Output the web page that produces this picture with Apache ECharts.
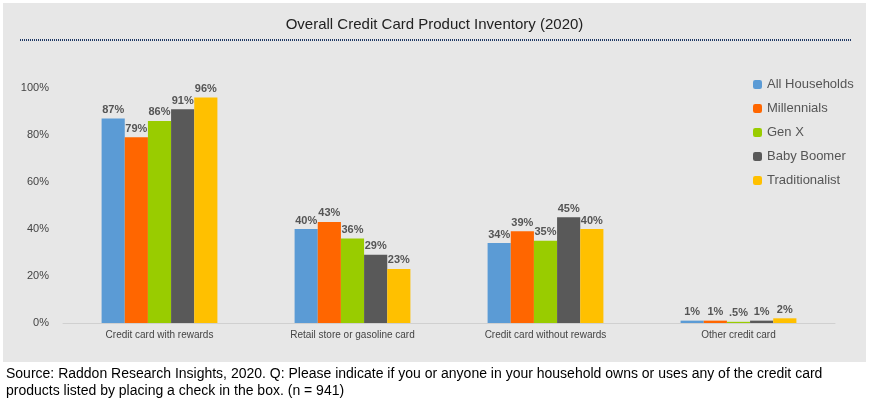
<!DOCTYPE html><html><head><meta charset="utf-8"><script src="https://cdn.jsdelivr.net/npm/echarts@6/dist/echarts.min.js"></script>
<style>body{margin:0;background:#fff}#c{width:869px;height:404px}</style></head><body><div id="c"></div><script>
const categories=["Credit card with rewards","Retail store or gasoline card","Credit card without rewards","Other credit card"];
const seriesNames=["All Households","Millennials","Gen X","Baby Boomer","Traditionalist"];
const allHouseholds=[87,40,34,1];
const millennials=[79,43,39,1];
const genX=[86,36,35,0.5];
const babyBoomer=[91,29,45,1];
const traditionalist=[96,23,40,2];
const colors=["#5B9BD5","#FF6600","#99CC00","#595959","#FFC000"];
const data=[allHouseholds,millennials,genX,babyBoomer,traditionalist];
const chart=echarts.init(document.getElementById('c'));
chart.setOption({
 animation:false,
 graphic:[
  {type:'rect',left:3,top:3,shape:{width:863,height:359},style:{fill:'#E7E7E7'},z:-10},
  {type:'line',shape:{x1:20,y1:40,x2:852,y2:40},style:{stroke:'#1F3864',lineWidth:2,lineDash:[1,1]}},
  {type:'text',left:6,top:366,style:{text:'Source: Raddon Research Insights, 2020. Q: Please indicate if you or anyone in your household owns or uses any of the credit card\nproducts listed by placing a check in the box. (n = 941)',font:'14px Arial, Liberation Sans',fill:'#000',lineHeight:17}}
 ],
 title:{text:'Overall Credit Card Product Inventory (2020)',left:'center',top:12,textStyle:{fontFamily:'Arial, Liberation Sans',fontSize:15,fontWeight:'normal',color:'#222'}},
 legend:{orient:'vertical',left:748,top:73,itemWidth:9,itemHeight:9,itemGap:11,textStyle:{fontFamily:'Arial, Liberation Sans',fontSize:13,color:'#555'}},
 grid:{left:63,right:34,top:88,bottom:81},
 xAxis:{type:'category',data:categories,axisTick:{show:false},axisLine:{lineStyle:{color:'#d0d0d0'}},axisLabel:{fontFamily:'Arial, Liberation Sans',fontSize:10,color:'#444',margin:7}},
 yAxis:{type:'value',min:0,max:100,interval:20,splitLine:{show:false},axisLabel:{formatter:'{value}%',fontFamily:'Arial, Liberation Sans',fontSize:11,color:'#444',margin:14}},
 series:seriesNames.map((n,i)=>({name:n,type:'bar',data:data[i],barGap:0,barCategoryGap:'40%',itemStyle:{color:colors[i]},
  label:{show:true,position:'top',distance:3,fontFamily:'Arial, Liberation Sans',fontSize:11,fontWeight:'bold',color:'#555',formatter:p=>(p.value<1?'.5':p.value)+'%'}}))
});
</script></body></html>
